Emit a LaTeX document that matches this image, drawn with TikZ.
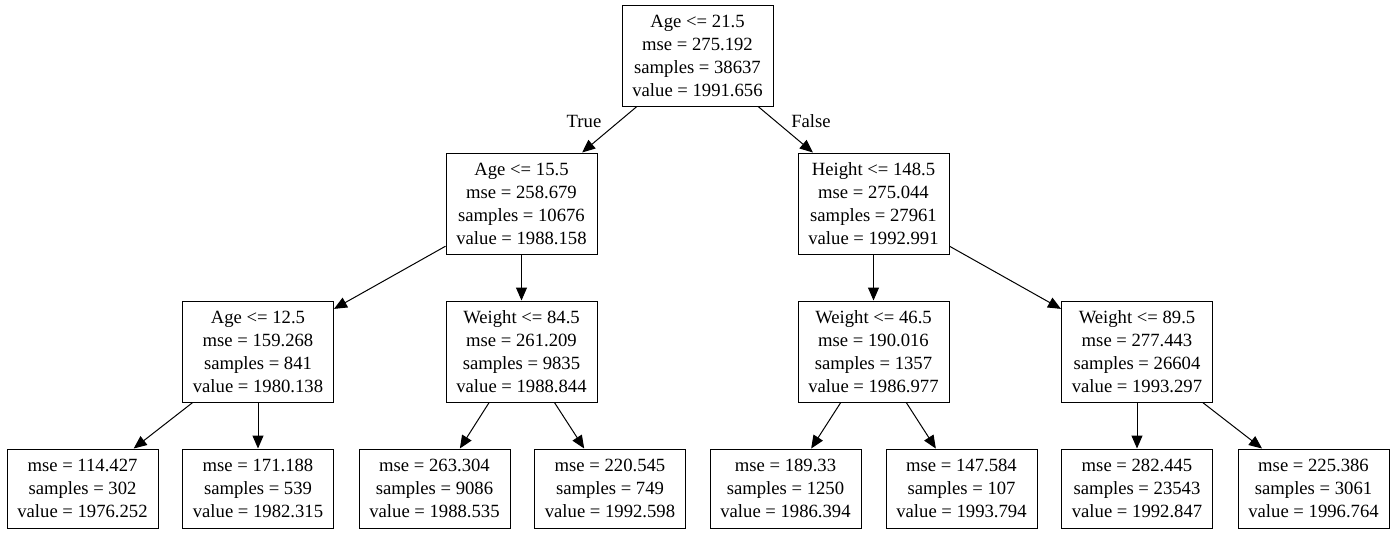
\documentclass[tikz,border=0pt]{standalone}
\usepackage{fontspec}
\setmainfont{Liberation Serif}
\usetikzlibrary{arrows.meta}

\begin{document}
\begin{tikzpicture}
[
	x				= 0.75pt,
	y				= -0.75pt,
	Split/.style	= {draw, line width = 0.75pt, font = \fontsize{14}{17.25}\selectfont, align = center, inner sep = 0pt, minimum width = 113.25pt, minimum height = 75.75pt},
	Leaf/.style		= {Split, minimum height = 59.25pt},
	Edge/.style		= {line width = 0.75pt, -{Triangle[length = 9.75pt, width = 8.25pt]}},
	Answer/.style	= {font = \fontsize{14}{17.25}\selectfont, inner sep = 0pt},
]

	\useasboundingbox (0,0) rectangle (1395,533);

	% split nodes
	\node (n0) [Split] at (697.5,55.5) {Age <= 21.5 \\ mse = 275.192 \\ samples = 38637 \\ value = 1991.656};
	%
	\node (n1) [Split] at (521.5,203.5) {Age <= 15.5 \\ mse = 258.679 \\ samples = 10676 \\ value = 1988.158};
	\node (n2) [Split] at (873.5,203.5) {Height <= 148.5 \\ mse = 275.044 \\ samples = 27961 \\ value = 1992.991};
	%
	\node (n11) [Split] at (258,351.5) {Age <= 12.5 \\ mse = 159.268 \\ samples = 841 \\ value = 1980.138};
	\node (n12) [Split] at (521.5,351.5) {Weight <= 84.5 \\ mse = 261.209 \\ samples = 9835 \\ value = 1988.844};
	\node (n21) [Split] at (873.5,351.5) {Weight <= 46.5 \\ mse = 190.016 \\ samples = 1357 \\ value = 1986.977};
	\node (n22) [Split] at (1137,351.5) {Weight <= 89.5 \\ mse = 277.443 \\ samples = 26604 \\ value = 1993.297};

	% leaves
	\node (l1) [Leaf] at (82.5,488.5) {mse = 114.427 \\ samples = 302 \\ value = 1976.252};
	\node (l2) [Leaf] at (258,488.5) {mse = 171.188 \\ samples = 539 \\ value = 1982.315};
	\node (l3) [Leaf] at (434.5,488.5) {mse = 263.304 \\ samples = 9086 \\ value = 1988.535};
	\node (l4) [Leaf] at (610,488.5) {mse = 220.545 \\ samples = 749 \\ value = 1992.598};
	\node (l5) [Leaf] at (785.5,488.5) {mse = 189.33 \\ samples = 1250 \\ value = 1986.394};
	\node (l6) [Leaf] at (961.5,488.5) {mse = 147.584 \\ samples = 107 \\ value = 1993.794};
	\node (l7) [Leaf] at (1137,488.5) {mse = 282.445 \\ samples = 23543 \\ value = 1992.847};
	\node (l8) [Leaf] at (1313.5,488.5) {mse = 225.386 \\ samples = 3061 \\ value = 1996.764};

	% edge labels
	\node (aT) [Answer] at (584,121) {True};
	\node (aF) [Answer] at (811,121) {False};

	\draw [Edge] (n0) -- (n1);
	\draw [Edge] (n0) -- (n2);
	\draw [Edge] (n1) -- (n11);
	\draw [Edge] (n1) -- (n12);
	\draw [Edge] (n2) -- (n21);
	\draw [Edge] (n2) -- (n22);
	%
	\draw [Edge] (n11) -- (l1);
	\draw [Edge] (n11) -- (l2);
	\draw [Edge] (n12) -- (l3);
	\draw [Edge] (n12) -- (l4);
	\draw [Edge] (n21) -- (l5);
	\draw [Edge] (n21) -- (l6);
	\draw [Edge] (n22) -- (l7);
	\draw [Edge] (n22) -- (l8);

\end{tikzpicture}
\end{document}
